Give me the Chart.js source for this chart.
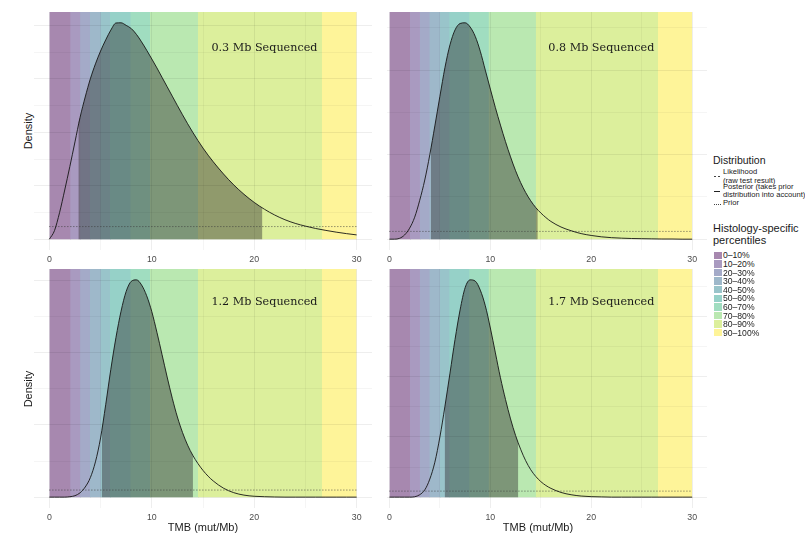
<!DOCTYPE html>
<html>
<head>
<meta charset="utf-8">
<script src="https://cdn.jsdelivr.net/npm/chart.js@4.4.1/dist/chart.umd.min.js"></script>
<style>
    body { margin: 0; background: #fff; width: 805px; height: 535px; position: relative; overflow: hidden; font-family: "Liberation Sans", Arial, sans-serif; color: #1a1a1a; }
    canvas.panel { position: absolute; }
    .txt { position: absolute; white-space: nowrap; transform: translateY(-50%); line-height: 1; }
    .ytitle { position: absolute; font-size: 11px; transform: translate(-50%, -50%) rotate(-90deg); white-space: nowrap; }
    .xtitle { position: absolute; font-size: 11px; transform: translate(-50%, -50%); white-space: nowrap; }
    .key { position: absolute; width: 8px; height: 7.6px; }
    .dot { position: absolute; height: 1px; background: #444; }
</style>
</head>
<body>
<script>
// TMB grid shared by the four posterior curves
const tmbX = [0, 0.5, 1, 1.5, 2, 2.5, 3, 3.5, 4, 4.5, 5, 5.5, 6, 6.5, 7, 7.5, 8, 8.5, 9, 9.5, 10,
    10.5, 11, 11.5, 12, 12.5, 13, 13.5, 14, 14.5, 15, 15.5, 16, 17, 18, 19, 20, 21, 22, 23, 24, 25, 26, 27, 28, 29, 30];

const post03 = [0, 0.004, 0.0125, 0.023, 0.034, 0.0455, 0.057, 0.0665, 0.075, 0.082, 0.088, 0.0932, 0.0978, 0.1011, 0.1012,
    0.1, 0.0985, 0.0958, 0.0923, 0.0884, 0.0843, 0.0801, 0.0757, 0.0713, 0.0669, 0.0625, 0.0582, 0.054, 0.05, 0.0462,
    0.0426, 0.0393, 0.0362, 0.0305, 0.0254, 0.021, 0.0172, 0.014, 0.0113, 0.0091, 0.0074, 0.0061, 0.005, 0.0041, 0.0033, 0.0026, 0.002];
const post08 = [0, 0, 0.0005, 0.0025, 0.0065, 0.013, 0.023, 0.035, 0.05, 0.067, 0.0845, 0.1015, 0.115, 0.1238, 0.1276,
    0.128, 0.1255, 0.12, 0.1112, 0.1, 0.0888, 0.0778, 0.0675, 0.0577, 0.0487, 0.0405, 0.0335, 0.0276, 0.0227, 0.0187,
    0.0155, 0.0128, 0.0105, 0.0072, 0.005, 0.0033, 0.0022, 0.0014, 0.0009, 0.0006, 0.0004, 0.0003, 0.0002, 0.0001, 0.0001, 0, 0];
const post12 = [0, 0, 0, 0, 0.0003, 0.001, 0.003, 0.007, 0.0135, 0.0245, 0.041, 0.064, 0.0885, 0.1105, 0.1288,
    0.1425, 0.1495, 0.1505, 0.147, 0.1395, 0.1285, 0.1142, 0.0988, 0.0832, 0.0685, 0.0555, 0.0448, 0.036, 0.029, 0.0233,
    0.0185, 0.0145, 0.0112, 0.0062, 0.0031, 0.0014, 0.0006, 0.0003, 0.0001, 0, 0, 0, 0, 0, 0, 0, 0];
const post17 = [0, 0, 0, 0, 0, 0.0003, 0.002, 0.006, 0.015, 0.029, 0.05, 0.0755, 0.103, 0.131, 0.1555,
    0.174, 0.1805, 0.1795, 0.172, 0.159, 0.1405, 0.1198, 0.0992, 0.0812, 0.065, 0.0512, 0.0398, 0.0303, 0.0228, 0.0172,
    0.0129, 0.0097, 0.0073, 0.0039, 0.002, 0.0009, 0.0004, 0.0002, 0, 0, 0, 0, 0, 0, 0, 0, 0];

// shaded interval under each posterior, and the curve height at its two edges
const shade03 = [2.83, 20.8], shadeEdge03 = [0.0545, 0.0146];
const shade08 = [4.1, 14.7], shadeEdge08 = [0.0535, 0.0173];
const shade12 = [5.12, 14.02], shadeEdge12 = [0.046, 0.0288];
const shade17 = [5.47, 12.77], shadeEdge17 = [0.074, 0.045];

const priorLevel = [0.0059, 0.0046, 0.0049, 0.005];

const percentileBreaks = [0, 2.03, 3.0, 3.95, 5.0, 5.92, 7.9, 9.82, 14.5, 26.6, 30];
const percentileLabels = ['0–10%', '10–20%', '20–30%', '30–40%', '40–50%', '50–60%', '60–70%', '70–80%', '80–90%', '90–100%'];
const viridis10 = ['#440154', '#482878', '#3E4A89', '#31688E', '#26828E', '#1F9E89', '#35B779', '#6DCD59', '#B4DE2C', '#FDE725'];

const panelTitles = ['0.3 Mb Sequenced', '0.8 Mb Sequenced', '1.2 Mb Sequenced', '1.7 Mb Sequenced'];
const xTickValues = [0, 5, 10, 15, 20, 25, 30];
const yGridStep = [0.0125, 0.025, 0.025, 0.025];

const distLabels = [['Likelihood', '(raw test result)'], ['Posterior (takes prior', 'distribution into account)'], ['Prior']];

// band colour laid over white, so neighbouring bands can overlap without seams
const overWhite = (hex, a) => {
    const n = parseInt(hex.slice(1), 16);
    const mix = (c) => Math.round(255 - a * (255 - c));
    return `rgb(${mix((n >> 16) & 255)}, ${mix((n >> 8) & 255)}, ${mix(n & 255)})`;
};
const BAND_ALPHA = 0.47;

const addText = (cls, text, x, y, style) => {
    const d = document.createElement('div');
    d.className = cls;
    d.textContent = text;
    d.style.left = x + 'px';
    d.style.top = y + 'px';
    Object.assign(d.style, style || {});
    document.body.appendChild(d);
    return d;
};

const addBox = (cls, x, y, w, style) => {
    const d = document.createElement('div');
    d.className = cls;
    d.style.left = x + 'px';
    d.style.top = y + 'px';
    if (w) d.style.width = w + 'px';
    Object.assign(d.style, style || {});
    document.body.appendChild(d);
};

const titlePlugin = {
    id: 'panelTitle',
    afterDatasetsDraw(chart) {
        const o = chart.options.plugins.panelTitle;
        const { ctx, scales } = chart;
        ctx.save();
        ctx.font = '11.2px "DejaVu Serif"';
        ctx.fillStyle = '#1a1a1a';
        ctx.textAlign = 'center';
        ctx.textBaseline = 'middle';
        ctx.fillText(o.text, scales.x.getPixelForValue(o.x), scales.y.getPixelForValue(o.y));
        ctx.restore();
    },
};

const buildPanel = (p) => {
    const canvas = document.createElement('canvas');
    canvas.className = 'panel';
    canvas.width = p.w;
    canvas.height = p.h;
    canvas.style.left = p.left + 'px';
    canvas.style.top = p.top + 'px';
    document.body.appendChild(canvas);

    const peak = Math.max(...p.curve);
    const yMin = -0.05 * peak, yMax = 1.05 * peak;
    const yTicks = [];
    for (let v = 0; v <= yMax + 1e-9; v += p.step) yTicks.push(+v.toFixed(5));

    const bands = percentileLabels.map((lab, i) => ({
        data: [
            { x: percentileBreaks[i], y: yMax },
            { x: percentileBreaks[i + 1] + (i < 9 ? 0.1 : 0), y: yMax },
        ],
        fill: 'origin',
        backgroundColor: overWhite(viridis10[i], BAND_ALPHA),
        borderWidth: 0,
        pointRadius: 0,
        order: 30 - i,
    }));

    const curvePts = tmbX.map((x, i) => ({ x, y: p.curve[i] }));
    const shadePts = [{ x: p.shade[0], y: p.shadeEdge[0] }]
        .concat(curvePts.filter(pt => pt.x > p.shade[0] && pt.x < p.shade[1]))
        .concat([{ x: p.shade[1], y: p.shadeEdge[1] }]);

    new Chart(canvas, {
        type: 'line',
        data: {
            datasets: [
                {
                    data: curvePts,
                    borderColor: '#151515',
                    borderWidth: 0.9,
                    pointRadius: 0,
                    fill: false,
                    cubicInterpolationMode: 'monotone',
                    order: 0,
                },
                {
                    data: [{ x: 0, y: p.prior }, { x: 30, y: p.prior }],
                    borderColor: '#3a3a3a',
                    borderWidth: 0.8,
                    borderDash: [1, 2],
                    pointRadius: 0,
                    fill: false,
                    order: 1,
                },
                {
                    data: shadePts,
                    borderWidth: 0,
                    pointRadius: 0,
                    fill: 'origin',
                    backgroundColor: 'rgba(51, 51, 51, 0.45)',
                    cubicInterpolationMode: 'monotone',
                    order: 2,
                },
                ...bands,
            ],
        },
        options: {
            responsive: false,
            animation: false,
            devicePixelRatio: 1,
            layout: { padding: 0 },
            plugins: {
                legend: { display: false },
                tooltip: { enabled: false },
                panelTitle: { text: p.title, x: 21, y: p.titleFrac * peak },
            },
            scales: {
                x: {
                    type: 'linear',
                    min: p.xMin,
                    max: p.xMax,
                    afterBuildTicks: (s) => { s.ticks = xTickValues.map(v => ({ value: v })); },
                    afterFit: (s) => { s.height = 22; },
                    ticks: {
                        callback: (v) => (v % 10 === 0 ? String(v) : ''),
                        color: '#4d4d4d',
                        font: { family: 'Liberation Sans', size: 8.8 },
                        padding: 4,
                        maxRotation: 0,
                        autoSkip: false,
                    },
                    grid: {
                        z: 1,
                        drawTicks: false,
                        color: 'rgba(0, 0, 0, 0.065)',
                        lineWidth: (c) => (c.tick && c.tick.value % 10 === 0 ? 1 : 0.6),
                    },
                    border: { display: false },
                },
                y: {
                    min: yMin,
                    max: yMax,
                    afterBuildTicks: (s) => { s.ticks = yTicks.map(v => ({ value: v })); },
                    afterFit: (s) => { s.width = 0; },
                    ticks: { display: false },
                    grid: {
                        z: 1,
                        drawTicks: false,
                        color: 'rgba(0, 0, 0, 0.065)',
                        lineWidth: (c) => {
                            const k = Math.round(c.tick.value / p.step);
                            return k % 2 === 0 ? 1 : 0.6;
                        },
                    },
                    border: { display: false },
                },
            },
        },
        plugins: [titlePlugin],
    });
};

const panels = [
    { left: 34, top: 12, w: 338, h: 260, xMin: -1.5, xMax: 31.5, curve: post03, shade: shade03, shadeEdge: shadeEdge03, prior: priorLevel[0], step: yGridStep[0], title: panelTitles[0], titleFrac: 0.882 },
    { left: 383, top: 12, w: 324, h: 260, xMin: -0.2, xMax: 31.47, curve: post08, shade: shade08, shadeEdge: shadeEdge08, prior: priorLevel[1], step: yGridStep[1], title: panelTitles[1], titleFrac: 0.882 },
    { left: 34, top: 269, w: 338, h: 261, xMin: -1.5, xMax: 31.5, curve: post12, shade: shade12, shadeEdge: shadeEdge12, prior: priorLevel[2], step: yGridStep[2], title: panelTitles[2], titleFrac: 0.9 },
    { left: 383, top: 269, w: 324, h: 261, xMin: -0.2, xMax: 31.47, curve: post17, shade: shade17, shadeEdge: shadeEdge17, prior: priorLevel[3], step: yGridStep[3], title: panelTitles[3], titleFrac: 0.9 },
];
panels.forEach(buildPanel);

// axis titles
addText('ytitle', 'Density', 28, 131);
addText('ytitle', 'Density', 28, 389);
addText('xtitle', 'TMB (mut/Mb)', 203, 527);
addText('xtitle', 'TMB (mut/Mb)', 538, 527);

// legend: distribution (dashed, solid, dotted keys)
addText('txt', 'Distribution', 713, 160, { fontSize: '10.5px' });
addBox('dot', 714, 176, 2);
addBox('dot', 718, 176, 2);
addBox('dot', 714, 191, 6, { background: '#222' });
addBox('dot', 714, 204, 1);
addBox('dot', 716, 204, 1);
addBox('dot', 718, 204, 1);
addBox('dot', 720, 204, 1);
const labelY = [[172.3, 180.7], [186.7, 195], [203.3]];
distLabels.forEach((lines, i) => {
    lines.forEach((t, j) => addText('txt', t, 723, labelY[i][j], { fontSize: '7.6px', color: '#222' }));
});

// legend: percentiles
addText('txt', 'Histology-specific', 713, 228, { fontSize: '11px' });
addText('txt', 'percentiles', 713, 239.5, { fontSize: '11px' });
percentileLabels.forEach((lab, i) => {
    const cy = 255.3 + 8.6 * i;
    addBox('key', 714, cy - 3.8, 0, { background: overWhite(viridis10[i], BAND_ALPHA) });
    addText('txt', lab, 723, cy, { fontSize: '8.6px', color: '#222' });
});
</script>
</body>
</html>
